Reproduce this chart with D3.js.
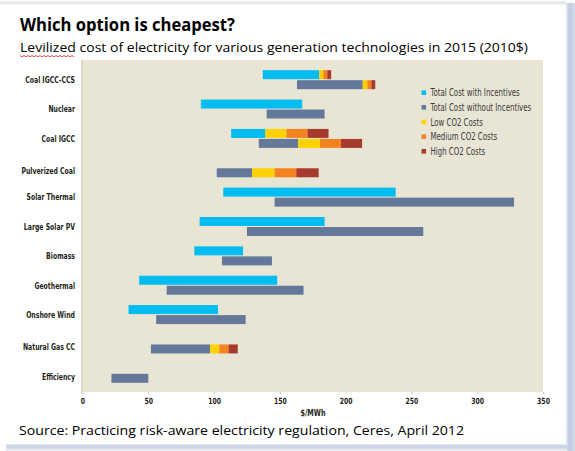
<!DOCTYPE html>
<html><head><meta charset="utf-8">
<script src="https://cdn.jsdelivr.net/npm/d3@7"></script>
<style>body{margin:0;background:#fff}svg{display:block}</style>
</head><body>
<svg id="c" width="575" height="451"></svg>
<script>
// ---- data ----
const categories = ["Coal IGCC-CCS","Nuclear","Coal IGCC","Pulverized Coal","Solar Thermal","Large Solar PV","Biomass","Geothermal","Onshore Wind","Natural Gas CC","Efficiency"];
const withIncMin    = [137, 90, 113, null, 107, 89, 85, 43, 35, null, null];
const withIncMax    = [180, 167, 139, null, 238, 184, 122, 148, 103, null, null];
const withoutIncMin = [163, 140, 134, 102, 146, 125, 106, 64, 56, 52, 22];
const withoutIncMax = [213, 184, 164, 129, 328, 259, 144, 168, 124, 97, 50];
const withIncLowCO2     = [3, 0, 16, 0, 0, 0, 0, 0, 0, 0, 0];
const withIncMediumCO2  = [3, 0, 16, 0, 0, 0, 0, 0, 0, 0, 0];
const withIncHighCO2    = [3, 0, 16, 0, 0, 0, 0, 0, 0, 0, 0];
const withoutIncLowCO2    = [3.5, 0, 16.5, 17, 0, 0, 0, 0, 0, 7, 0];
const withoutIncMediumCO2 = [3, 0, 16, 16.5, 0, 0, 0, 0, 0, 7, 0];
const withoutIncHighCO2   = [3, 0, 16, 17, 0, 0, 0, 0, 0, 7, 0];
const xTicks = [0, 50, 100, 150, 200, 250, 300, 350];
const legendLabels = ["Total Cost with Incentives","Total Cost without Incentives","Low CO2 Costs","Medium CO2 Costs","High CO2 Costs"];
const legendColors = ["#00bcf1","#64799a","#ffd100","#f4821f","#a63b2c"];

const title = "Which option is cheapest?";
const subtitle = "Levilized cost of electricity for various generation technologies in 2015 (2010$)";
const source = "Source: Practicing risk-aware electricity regulation, Ceres, April 2012";
const xLabel = "$/MWh";

// ---- build segments ----
const segs = [];
function addRow(i, row, min, max, lo, me, hi) {
  let b = max;
  segs.push({i, row, x0: min, x1: max, c: row === 0 ? legendColors[0] : legendColors[1]});
  [[lo, 2], [me, 3], [hi, 4]].forEach(([v, k]) => {
    if (v > 0) { segs.push({i, row, x0: b, x1: b + v, c: legendColors[k]}); b += v; }
  });
}
categories.forEach((c, i) => {
  if (withIncMin[i] != null) addRow(i, 0, withIncMin[i], withIncMax[i], withIncLowCO2[i], withIncMediumCO2[i], withIncHighCO2[i]);
  addRow(i, 1, withoutIncMin[i], withoutIncMax[i], withoutIncLowCO2[i], withoutIncMediumCO2[i], withoutIncHighCO2[i]);
});

// ---- drawing ----
const svg = d3.select("#c");
const condensed = "'DejaVu Sans Condensed','Liberation Sans Narrow','Roboto Condensed',sans-serif";
const calibri = "'Open Sans','Noto Sans','Liberation Sans',sans-serif";

// card shadows
const defs = svg.append("defs");
const gr = defs.append("linearGradient").attr("id","gR").attr("x1","0").attr("x2","1").attr("y1","0").attr("y2","0");
gr.append("stop").attr("offset","0").attr("stop-color","#e4e9f2");
gr.append("stop").attr("offset","0.4").attr("stop-color","#bccadf");
gr.append("stop").attr("offset","1").attr("stop-color","#d5deeb");
const gb = defs.append("linearGradient").attr("id","gB").attr("x1","0").attr("x2","0").attr("y1","0").attr("y2","1");
gb.append("stop").attr("offset","0").attr("stop-color","#e4e9f2");
gb.append("stop").attr("offset","0.4").attr("stop-color","#c4d0e2");
gb.append("stop").attr("offset","1").attr("stop-color","#f2f5f9");
const gt = defs.append("linearGradient").attr("id","gT").attr("x1","0").attr("x2","0").attr("y1","0").attr("y2","1");
gt.append("stop").attr("offset","0").attr("stop-color","#ffffff");
gt.append("stop").attr("offset","0.6").attr("stop-color","#dcdfe4");
gt.append("stop").attr("offset","1").attr("stop-color","#ffffff");

svg.append("rect").attr("x",0).attr("y",0).attr("width",566).attr("height",5).attr("fill","url(#gT)");
svg.append("rect").attr("x",566).attr("y",3).attr("width",9).attr("height",448).attr("fill","url(#gR)");
svg.append("rect").attr("x",6).attr("y",444).attr("width",561).attr("height",7).attr("fill","url(#gB)");

// scales
const x = d3.scaleLinear().domain([0, 350]).range([82.5, 543]);
const y = d3.scaleBand().domain(categories).range([65, 388]).paddingInner(0).paddingOuter(0);
const barH = 9;

// plot background
svg.append("rect").attr("x", 81.5).attr("y", 60).attr("width", 543 - 81.5).attr("height", 392 - 60).attr("fill", "#e8e5d5");
svg.append("line").attr("x1",81.8).attr("x2",81.8).attr("y1",60).attr("y2",394).attr("stroke","#c9c6b8").attr("stroke-width",1);

// bars
svg.append("g").selectAll("rect").data(segs).join("rect")
  .attr("x", d => x(d.x0))
  .attr("width", d => x(d.x1) - x(d.x0))
  .attr("y", d => y(categories[d.i]) + y.bandwidth() / 2 + (d.row === 0 ? -barH - 0.5 : 0.5))
  .attr("height", barH)
  .attr("fill", d => d.c);

// category labels
svg.append("g").selectAll("text").data(categories).join("text")
  .attr("transform", (d, i) => `translate(75,${y(d) + y.bandwidth() / 2 + (withIncMin[i] == null ? 3 : 0)}) scale(0.72,1)`)
  .attr("dy", "0.35em")
  .attr("text-anchor", "end")
  .attr("font-family", condensed).attr("font-weight", "bold").attr("font-size", 9.5)
  .attr("fill", "#231f20")
  .text(d => d);

// x axis
const ax = svg.append("g").attr("transform", "translate(0,392)")
  .call(d3.axisBottom(x).tickValues(xTicks).tickSize(2).tickPadding(4));
ax.select(".domain").remove();
ax.selectAll(".tick line").attr("stroke", "#c9c6b8");
ax.selectAll(".tick text").attr("font-family", condensed).attr("font-weight", "bold").attr("font-size", 8.5)
  .attr("fill", "#231f20").attr("transform", "scale(0.8,1)");

svg.append("text").attr("transform", "translate(313,415.5) scale(0.8,1)").attr("text-anchor", "middle")
  .attr("font-family", condensed).attr("font-weight", "bold").attr("font-size", 9).attr("fill", "#231f20").text(xLabel);

// legend
const lg = svg.append("g").selectAll("g").data(legendLabels).join("g")
  .attr("transform", (d, i) => `translate(421.5,${92.7 + i * 14.65})`);
lg.append("rect").attr("x", 0).attr("y", -2.3).attr("width", 4.6).attr("height", 4.6).attr("fill", (d, i) => legendColors[i]);
lg.append("text").attr("transform", "translate(9,0) scale(0.78,1)").attr("dy", "0.35em")
  .attr("font-family", condensed).attr("font-size", 10).attr("fill", "#3a3a3a").text(d => d);

// titles
svg.append("text").attr("x", 20).attr("y", 31).attr("font-family", calibri).attr("font-weight", "bold")
  .attr("font-size", 17.5).attr("fill", "#000").attr("textLength", 215).attr("lengthAdjust", "spacingAndGlyphs").text(title);
svg.append("text").attr("x", 20).attr("y", 52).attr("font-family", calibri)
  .attr("font-size", 13.5).attr("fill", "#000").attr("textLength", 508).attr("lengthAdjust", "spacingAndGlyphs").text(subtitle);
// spell-check squiggle under first word
const sq = d3.range(0, 28).map(k => [20 + k * 2, 55.5 + (k % 2 ? 1.4 : 0)]);
svg.append("path").attr("d", d3.line()(sq)).attr("fill", "none").attr("stroke", "#e0202a").attr("stroke-width", 0.8);

svg.append("text").attr("x", 19).attr("y", 434.5).attr("font-family", calibri)
  .attr("font-size", 13.5).attr("fill", "#000").attr("textLength", 445).attr("lengthAdjust", "spacingAndGlyphs").text(source);
</script>
</body></html>
